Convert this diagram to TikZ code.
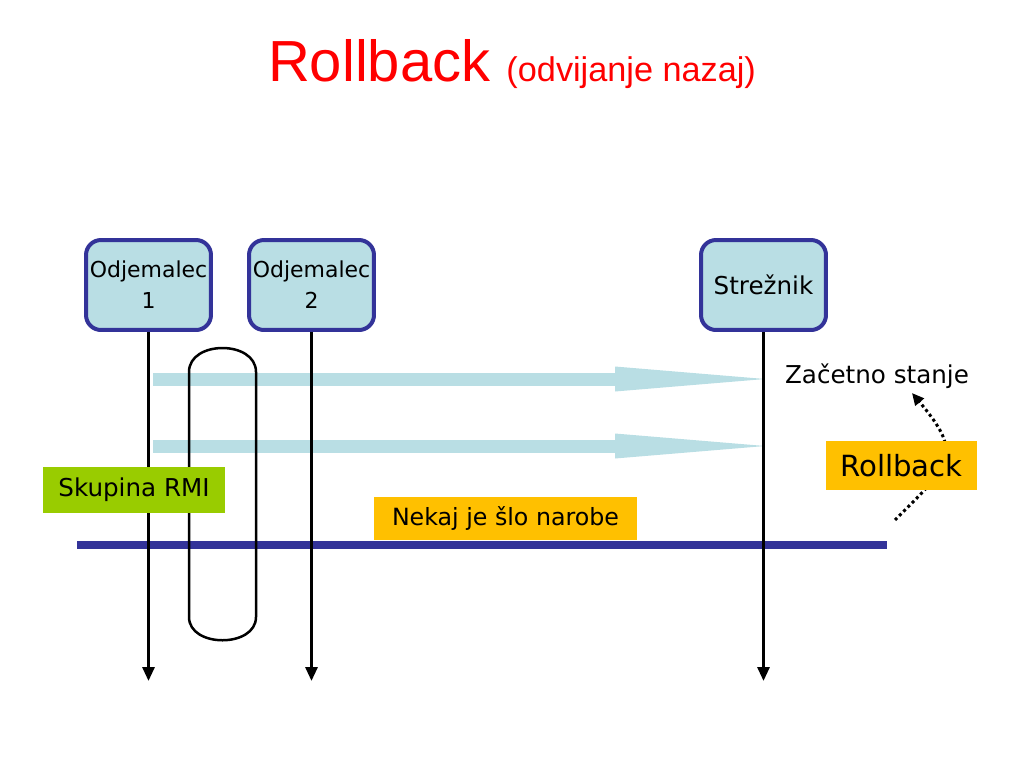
\documentclass[tikz,border=0pt]{standalone}
\usepackage{fontspec}
\setmainfont{DejaVu Sans}
\newfontfamily\titlefont{Liberation Sans}
\usetikzlibrary{arrows.meta}
\definecolor{boxblue}{RGB}{185,222,228}
\definecolor{navy}{RGB}{51,51,153}
\definecolor{gold}{RGB}{255,192,0}
\definecolor{lime}{RGB}{153,204,0}

\begin{document}
\begin{tikzpicture}[x=0.02cm, y=-0.02cm,
	actor/.style={draw=navy, fill=boxblue, line width=0.08cm, rounded corners=0.3cm, minimum width=2.5cm, minimum height=1.8cm, align=center, inner sep=0pt},
	tag/.style={inner sep=0pt, font=\fontsize{14}{17}\selectfont},
	life/.style={black, line width=0.06cm, -{Triangle[length=0.28cm,width=0.24cm]}},
	msg/.style={boxblue, line width=0.26cm, -{Triangle[length=3cm,width=0.5cm,line width=0pt]}},
	undo/.style={black, line width=0.06cm, dash pattern=on 0.06cm off 0.06cm, -{Triangle[length=0.24cm,width=0.22cm]}}]
	        \useasboundingbox (0,0) rectangle (1024,768);
	        \node [inner sep=0pt, anchor=base, text=red] at (512,81) (title) {\titlefont\fontsize{33}{40}\selectfont Rollback {\fontsize{19.5}{24}\selectfont (odvijanje nazaj)}};
	        
	        \coordinate (errL) at (77,545);
	        \coordinate (errR) at (887,545);
	        \draw [navy, line width=0.16cm] (errL) -- (errR);
	        
	        \coordinate (m1s) at (153,379);
	        \coordinate (m1e) at (765,379);
	        \coordinate (m2s) at (153,446);
	        \coordinate (m2e) at (765,446);
	        \draw [msg] (m1s) -- (m1e);
	        \draw [msg] (m2s) -- (m2e);
	        
	        \coordinate (rbfrom) at (895,520);
	        \coordinate (rbto) at (912,393);
	        \draw [undo] (rbfrom) to[out=45, in=-50, looseness=1.6] (rbto);
	        
	        \node [actor, font=\fontsize{12.5}{17.5}\selectfont] at (148.5,285) (c1) {Odjemalec\\1};
	        \node [actor, font=\fontsize{12.5}{17.5}\selectfont] at (311.5,285) (c2) {Odjemalec\\2};
	        \node [actor, font=\fontsize{14}{17}\selectfont] at (763.5,285) (srv) {Strežnik};
	        \coordinate (c1end) at (148.5,681);
	        \coordinate (c2end) at (311.5,681);
	        \coordinate (srvend) at (763.5,681);
	        
	        \draw [life] (c1) -- (c1end);
	        \draw [life] (c2) -- (c2end);
	        \draw [life] (srv) -- (srvend);
	        
	        \coordinate (gl) at (189,372);
	        \coordinate (gr) at (256,372);
	        \draw [black, line width=0.05cm] (gl) .. controls (189,340) and (256,340) .. (gr) -- (256,617) .. controls (256,648) and (189,648) .. (189,617) -- cycle;
	        
	        \node [tag] at (877,376) (start) {Začetno stanje};
	        \node [tag, fill=lime, minimum width=3.64cm, minimum height=0.92cm] at (134,490) (group) {Skupina RMI};
	        \node [tag, fill=gold, minimum width=5.26cm, minimum height=0.86cm, font=\fontsize{13.5}{16}\selectfont] at (505.5,518.5) (fail) {Nekaj je šlo narobe};
	        \node [tag, fill=gold, minimum width=3.02cm, minimum height=0.98cm, font=\fontsize{16.6}{20}\selectfont] at (901.5,465.5) (rb) {Rollback};
        \end{tikzpicture}
\end{document}
